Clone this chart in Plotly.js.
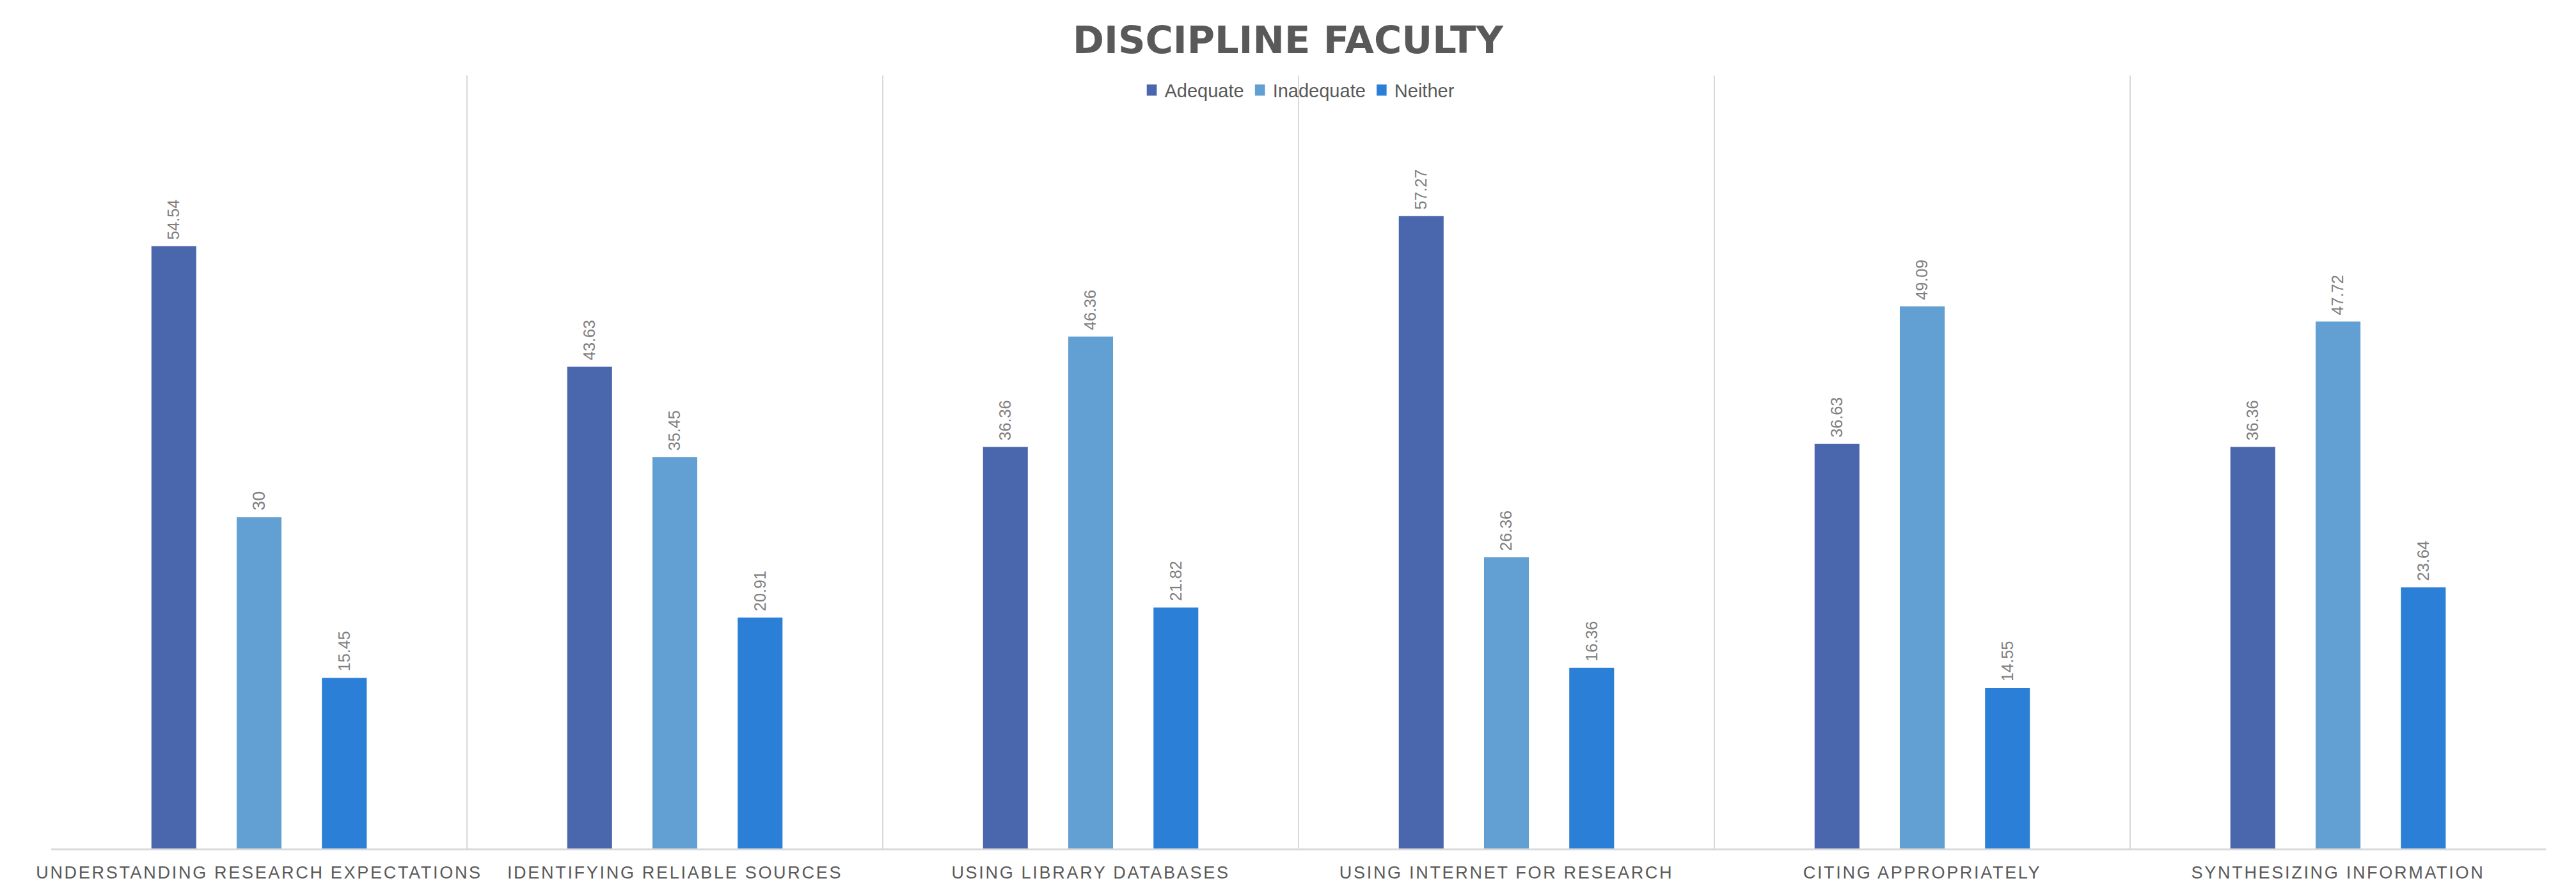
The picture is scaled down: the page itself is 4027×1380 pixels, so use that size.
<!DOCTYPE html>
<html>
<head>
<meta charset="utf-8">
<script src="https://cdn.plot.ly/plotly-3.0.1.min.js"></script>
<style>
html,body{margin:0;padding:0;background:#fff;}
#chart{width:4027px;height:1380px;}
.xtick text{letter-spacing:2.7px;}
</style>
</head>
<body>
<div id="chart"></div>
<script>
const categories = [
  "UNDERSTANDING RESEARCH EXPECTATIONS",
  "IDENTIFYING RELIABLE SOURCES",
  "USING LIBRARY DATABASES",
  "USING INTERNET FOR RESEARCH",
  "CITING APPROPRIATELY",
  "SYNTHESIZING INFORMATION"
];
const adequate   = [54.54, 43.63, 36.36, 57.27, 36.63, 36.36];
const inadequate = [30, 35.45, 46.36, 26.36, 49.09, 47.72];
const neither    = [15.45, 20.91, 21.82, 16.36, 14.55, 23.64];

const seriesNames = ["Adequate", "Inadequate", "Neither"];
const seriesColors = ["#4A67AE", "#629FD2", "#2B7FD7"];
const seriesValues = [adequate, inadequate, neither];

const labelFont = {family: "Liberation Sans, Arial, sans-serif", size: 27, color: "#7F7F7F"};

const traces = seriesValues.map((vals, i) => ({
  type: "bar",
  name: seriesNames[i],
  x: categories,
  y: vals,
  marker: {color: seriesColors[i]},
  text: vals.map(v => "\u00a0" + String(v)),
  textposition: "outside",
  textangle: -90,
  textfont: labelFont,
  cliponaxis: false,
  hoverinfo: "none"
}));

const layout = {
  width: 4027,
  height: 1380,
  margin: {l: 80, r: 47, t: 118, b: 54, pad: 0},
  paper_bgcolor: "#ffffff",
  plot_bgcolor: "#ffffff",
  font: {family: "Liberation Sans, Arial, sans-serif", color: "#595959"},
  title: {
    text: "DISCIPLINE FACULTY",
    font: {family: "DejaVu Sans, sans-serif", size: 59, color: "#595959", weight: "bold"},
    x: 0.5, xanchor: "center",
    y: 1 - 62/1380, yanchor: "middle", yref: "container"
  },
  barmode: "group",
  bargap: 0.385,
  bargroupgap: 0.474,
  showlegend: true,
  legend: {
    orientation: "h",
    x: 0.5, xanchor: "center",
    y: 0.981, yanchor: "middle",
    bgcolor: "rgba(0,0,0,0)",
    font: {family: "Liberation Sans, Arial, sans-serif", size: 29, color: "#595959"},
    itemwidth: 30,
    traceorder: "normal"
  },
  xaxis: {
    type: "category",
    tickson: "boundaries",
    showgrid: true,
    gridcolor: "#D9D9D9",
    gridwidth: 2,
    showline: true,
    linecolor: "#D9D9D9",
    linewidth: 3,
    ticks: "",
    ticklabelstandoff: 12,
    tickfont: {family: "Liberation Sans, Arial, sans-serif", size: 27, color: "#595959"},
    fixedrange: true
  },
  yaxis: {
    range: [0, 70],
    showgrid: false,
    zeroline: false,
    showline: false,
    showticklabels: false,
    ticks: "",
    fixedrange: true
  }
};

Plotly.newPlot("chart", traces, layout, {displayModeBar: false, staticPlot: true}).then(() => {
  document.querySelectorAll(".legend .legendpoints path").forEach(p => {
    const t = p.getAttribute("transform") || "";
    p.setAttribute("transform", t + " scale(1.3,1.45)");
  });
});
</script>
</body>
</html>
